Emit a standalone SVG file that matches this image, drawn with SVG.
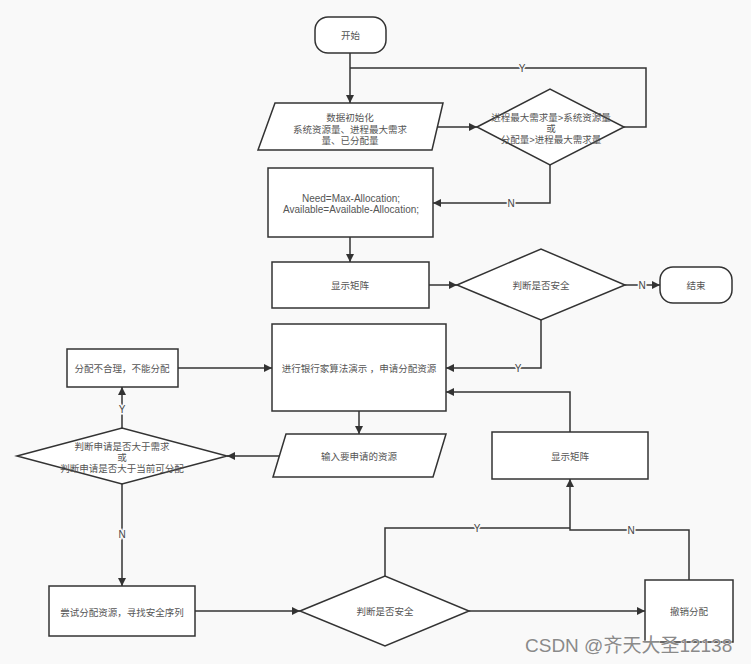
<svg xmlns="http://www.w3.org/2000/svg" width="751" height="664" viewBox="0 0 751 664">
<defs>
<marker id="arr" viewBox="0 0 10 10" refX="10" refY="5" markerWidth="8" markerHeight="8" markerUnits="userSpaceOnUse" orient="auto">
<path d="M0,0 L10,5 L0,10 z" fill="#333"/>
</marker>
<style>
.shape{fill:#fff;stroke:#333;stroke-width:1.5}
.t{font-family:"Liberation Sans","Noto Sans CJK SC",sans-serif;font-size:9.5px;fill:#555;text-anchor:middle;dominant-baseline:central}
.tl{font-family:"Liberation Sans","Noto Sans CJK SC",sans-serif;font-size:10px;fill:#555;text-anchor:middle;dominant-baseline:central}
.c{fill:none;stroke:#333;stroke-width:1.5}
.ca{fill:none;stroke:#333;stroke-width:1.5;marker-end:url(#arr)}
.lb{font-family:"Liberation Sans",sans-serif;font-size:10px;fill:#444;text-anchor:middle;dominant-baseline:central;stroke:#f9f9f9;stroke-width:3;paint-order:stroke}
.wm{font-family:"Liberation Sans","Noto Sans CJK SC",sans-serif;font-size:19px;fill:#8a8a8a;stroke:#fff;stroke-width:0.6;paint-order:stroke}
</style>
</defs>
<rect x="0" y="0" width="751" height="664" fill="#f9f9f9"/>

<g id="connectors">
<path class="ca" d="M350,53 L350,103"/>
<path class="c" d="M624,127 L646,127 L646,68 L350,68"/>
<text class="lb" x="522" y="68">Y</text>
<path class="ca" d="M437,127 L477,127"/>
<path class="ca" d="M550,165 L550,203 L433,203"/>
<text class="lb" x="511" y="203">N</text>
<path class="ca" d="M350,237 L350,262"/>
<path class="ca" d="M429,285 L457,285"/>
<path class="ca" d="M625,285 L660,285"/>
<text class="lb" x="642" y="285">N</text>
<path class="ca" d="M541,320 L541,368 L446,368"/>
<text class="lb" x="518" y="368">Y</text>
<path class="ca" d="M178,368 L272,368"/>
<path class="ca" d="M570,432 L570,392 L446,392"/>
<path class="ca" d="M359,411 L359,434"/>
<path class="ca" d="M279,456 L227,456"/>
<path class="ca" d="M122,428 L122,387"/>
<text class="lb" x="122" y="409">Y</text>
<path class="ca" d="M122,484 L122,586"/>
<text class="lb" x="122" y="534">N</text>
<path class="ca" d="M195,611 L300,611"/>
<path class="c" d="M385,576 L385,528 L570,528"/>
<text class="lb" x="477" y="528">Y</text>
<path class="ca" d="M689,580 L689,530 L570,530 L570,479"/>
<text class="lb" x="631" y="530">N</text>
<path class="ca" d="M469,611 L645,611"/>
</g>

<g id="start">
<rect class="shape" x="315" y="17" width="71" height="36" rx="13"/>
<text class="t" x="350.5" y="35">开始</text>
</g>

<g id="init">
<polygon class="shape" points="275,103 443,103 432,150 258,150"/>
<text class="t" x="350" y="117">数据初始化</text>
<text class="t" x="350" y="129">系统资源量、进程最大需求</text>
<text class="t" x="350" y="140">量、已分配量</text>
</g>

<g id="check1">
<polygon class="shape" points="477,127 550,89 624,127 550,165"/>
<text class="t" x="551" y="117">进程最大需求量&gt;系统资源量</text>
<text class="t" x="551" y="128">或</text>
<text class="t" x="551" y="139">分配量&gt;进程最大需求量</text>
</g>

<g id="need">
<rect class="shape" x="268" y="168" width="165" height="69"/>
<text class="tl" x="351" y="198">Need=Max-Allocation;</text>
<text class="tl" x="351" y="209">Available=Available-Allocation;</text>
</g>

<g id="show1">
<rect class="shape" x="272" y="262" width="157" height="46"/>
<text class="t" x="350" y="285">显示矩阵</text>
</g>

<g id="safe1">
<polygon class="shape" points="457,285 541,249 625,285 541,320"/>
<text class="t" x="541" y="285">判断是否安全</text>
</g>

<g id="end">
<rect class="shape" x="660" y="267" width="72" height="36" rx="13"/>
<text class="t" x="696" y="285">结束</text>
</g>

<g id="banker">
<rect class="shape" x="272" y="324" width="174" height="87"/>
<text class="t" x="359" y="368">进行银行家算法演示 ，申请分配资源</text>
</g>

<g id="unreasonable">
<rect class="shape" x="67" y="349" width="111" height="38"/>
<text class="t" x="122" y="368">分配不合理，不能分配</text>
</g>

<g id="input">
<polygon class="shape" points="286,434 446,434 433,477 273,477"/>
<text class="t" x="359" y="456">输入要申请的资源</text>
</g>

<g id="check2">
<polygon class="shape" points="17,456 122,428 227,456 122,484"/>
<text class="t" x="122" y="446">判断申请是否大于需求</text>
<text class="t" x="122" y="457">或</text>
<text class="t" x="122" y="468">判断申请是否大于当前可分配</text>
</g>

<g id="try">
<rect class="shape" x="49" y="586" width="146" height="50"/>
<text class="t" x="122" y="612">尝试分配资源，寻找安全序列</text>
</g>

<g id="safe2">
<polygon class="shape" points="300,611 385,576 469,611 385,646"/>
<text class="t" x="385" y="611">判断是否安全</text>
</g>

<g id="show2">
<rect class="shape" x="492" y="432" width="156" height="47"/>
<text class="t" x="570" y="456">显示矩阵</text>
</g>

<g id="revoke">
<rect class="shape" x="645" y="580" width="88" height="62"/>
<text class="t" x="689" y="611">撤销分配</text>
</g>

<text class="wm" x="525" y="652">CSDN @齐天大圣12138</text>
</svg>
